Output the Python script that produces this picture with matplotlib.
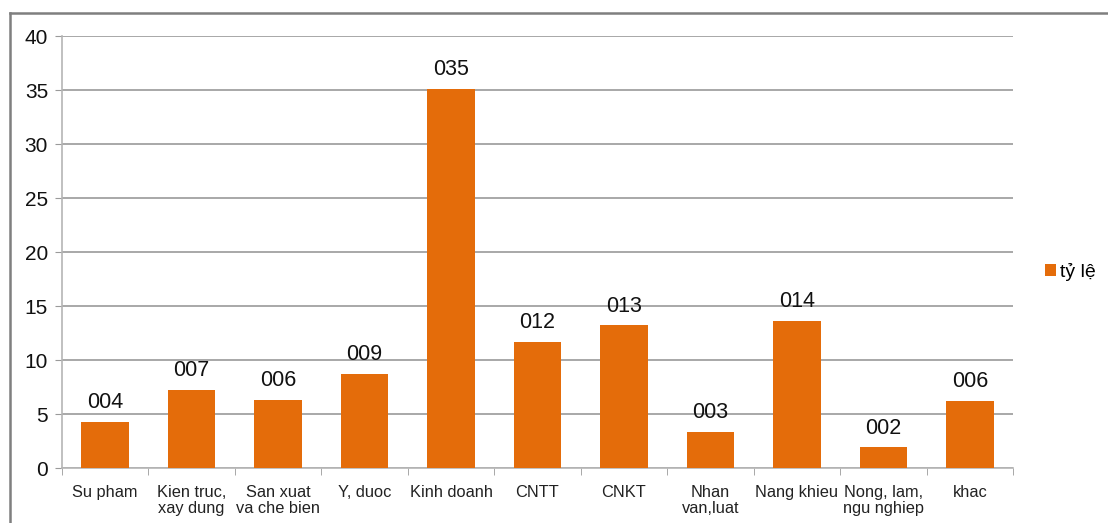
import matplotlib.pyplot as plt
from matplotlib.lines import Line2D
import numpy as np

plt.rcParams['font.family'] = ['Liberation Sans', 'DejaVu Sans']

categories = ['Su pham', 'Kien truc,\nxay dung', 'San xuat\nva che bien', 'Y, duoc',
              'Kinh doanh', 'CNTT', 'CNKT', 'Nhan\nvan,luat', 'Nang khieu',
              'Nong, lam,\nngu nghiep', 'khac']
ty_le = [4.3, 7.25, 6.3, 8.75, 35.1, 11.7, 13.2, 3.35, 13.6, 1.9, 6.25]
series_name = 'tỷ lệ'
yticks = [0, 5, 10, 15, 20, 25, 30, 35, 40]

bar_color = '#E46C0A'
grid_color = '#9a9a9a'

fig = plt.figure(figsize=(11.08, 5.23), dpi=100)
ax = fig.add_axes([62 / 1108, 55 / 523, (1013 - 62) / 1108, (468 - 36) / 523])

x = np.arange(len(categories))
bars = ax.bar(x, ty_le, width=0.55, color=bar_color, zorder=3, label=series_name)

for b, v in zip(bars, ty_le):
    ax.text(b.get_x() + b.get_width() / 2, v + 0.8, '%03d' % round(v),
            ha='center', va='bottom', fontsize=15.5, color='#111111')

ax.set_xlim(-0.5, len(categories) - 0.5)
ax.set_ylim(0, 40)
ax.set_yticks(yticks)
ax.tick_params(axis='y', labelsize=15, length=5, color=grid_color, pad=5, labelcolor='#111111')
ax.yaxis.grid(True, color=grid_color, linewidth=1.2, zorder=0)

ax.set_xticks(x)
ax.set_xticklabels(categories, fontsize=11.8, color='#222222', linespacing=1.1)
ax.tick_params(axis='x', which='major', length=0, pad=12)
ax.set_xticks(np.arange(-0.5, len(categories)), minor=True)
ax.tick_params(axis='x', which='minor', length=5, color=grid_color)

for s in ['top', 'right']:
    ax.spines[s].set_visible(False)
ax.spines['left'].set_color('#b5b5b5')
ax.spines['bottom'].set_color('#b5b5b5')
ax.spines['left'].set_linewidth(1.2)
ax.spines['bottom'].set_linewidth(1.2)

leg = fig.legend(handles=[bars], labels=[series_name], loc='center left',
                 bbox_to_anchor=(1027 / 1108, 1 - 272 / 523), frameon=False,
                 fontsize=14, handlelength=0.6, handleheight=0.6, handletextpad=0.2)

# outer chart frame
fig.add_artist(Line2D([10 / 1108, 10 / 1108], [0, 1 - 13 / 523], color='#7f7f7f', linewidth=1.8))
fig.add_artist(Line2D([10 / 1108, 1], [1 - 13 / 523, 1 - 13 / 523], color='#7f7f7f', linewidth=1.8))

fig.savefig('out.png', dpi=100)
